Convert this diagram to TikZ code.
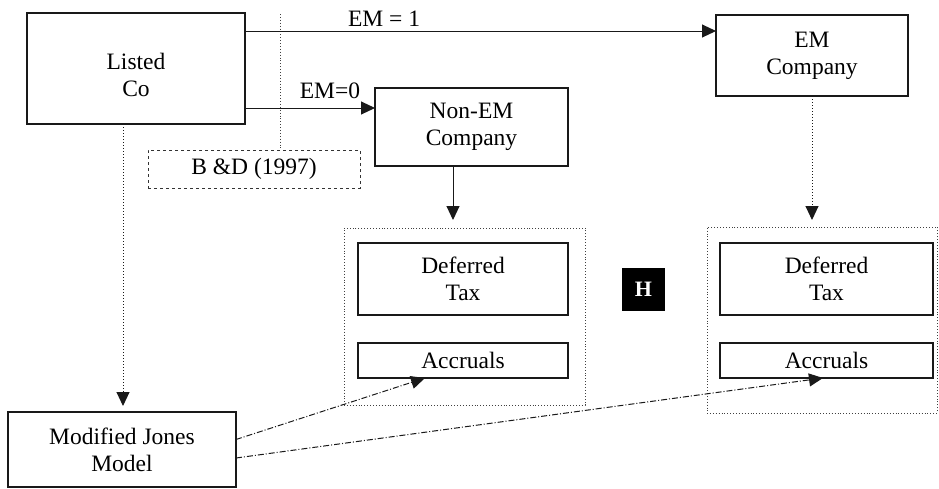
\documentclass[tikz,border=0pt]{standalone}
\usepackage{fontspec}
\setmainfont{Liberation Serif}
\usetikzlibrary{arrows.meta,calc}
\begin{document}
\begin{tikzpicture}[x=1pt,y=-1pt,
  every node/.style={font=\fontsize{23.5}{27}\selectfont, align=center, inner sep=0pt, outer sep=0pt},
  boxst/.style={draw=black!90, line width=1.1pt},
  contst/.style={draw=black!75, line width=0.9pt, dotted},
  arr/.style={draw=black!90, line width=1pt, -{Triangle[length=14pt,width=13pt]}},
  dotarr/.style={arr, dotted},
  dasharr/.style={arr, dash pattern=on 6pt off 2pt on 1pt off 2pt}]
\useasboundingbox (0,0) rectangle (939,488);
% main boxes
\node[boxst, minimum width=218pt, minimum height=111pt] (listed) at (136,68.5) {};
\node (listedtxt) at (136,75) {Listed\\Co};
\node[boxst, minimum width=193pt, minimum height=78pt] (nonem) at (471.5,127) {Non-EM\\Company};
\node[boxst, minimum width=192pt, minimum height=81pt] (emco) at (812,55.5) {EM\\Company};
\node[draw=black!80, line width=0.9pt, dashed, minimum width=212pt, minimum height=38pt] (bd) at (254,169) {B \&D (1997)};
\node[boxst, minimum width=228pt, minimum height=75pt] (mj) at (122,449.5) {Modified Jones\\Model};
% containers
\node[contst, minimum width=241pt, minimum height=177pt] (lcont) at (464.5,316.5) {};
\node[contst, minimum width=230pt, minimum height=186pt] (rcont) at (822,320) {};
\node[boxst, minimum width=210pt, minimum height=72pt] (ldef) at (463,279) {Deferred\\Tax};
\node[boxst, minimum width=210pt, minimum height=35pt] (lacc) at (463,360.5) {Accruals};
\node[boxst, minimum width=213pt, minimum height=72pt] (rdef) at (826.5,279) {Deferred\\Tax};
\node[boxst, minimum width=213pt, minimum height=35pt] (racc) at (826.5,360.5) {Accruals};
% H marker
\node[fill=black, minimum width=43pt, minimum height=43pt, text=white, font=\fontsize{22}{26}\selectfont\bfseries] (hbox) at (643.5,289.5) {H};
% labels
\node (l1) at (384,19) {EM = 1};
\node (l0) at (330,91) {EM=0};
% vertical dotted separator
\coordinate (vtop) at (280,14);
\draw[draw=black!75, line width=0.9pt, dotted] (vtop) -- (vtop |- bd.north);
% connectors
\draw[arr] ([yshift=-18pt]listed.north east) -- ([yshift=-18pt]listed.north east -| emco.west);
\draw[arr] ([yshift=16pt]listed.south east) -- ([yshift=16pt]listed.south east -| nonem.west);
\draw[arr, shorten >=8pt] ([xshift=-18.5pt]nonem.south) -- ([xshift=-18.5pt]nonem.south |- lcont.north);
\draw[dotarr, shorten >=7pt] (emco.south) -- (emco.south |- rcont.north);
\draw[dotarr, shorten >=6pt] ([xshift=-13pt]listed.south) -- ([xshift=-13pt]listed.south |- mj.north);
\draw[dasharr] ([yshift=10pt]mj.east) -- ([xshift=-38pt]lacc.south);
\draw[dasharr] ([yshift=-8.5pt]mj.east) -- ([xshift=-3.5pt]racc.south);
\end{tikzpicture}
\end{document}
